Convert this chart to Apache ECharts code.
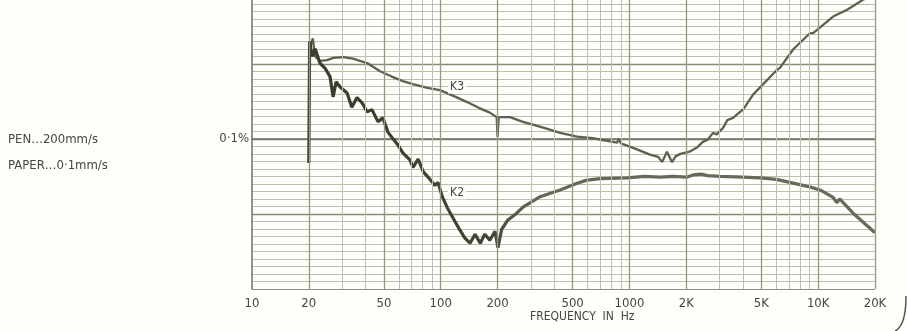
<!DOCTYPE html>
<html>
<head>
<meta charset="utf-8">
<script src="https://cdn.jsdelivr.net/npm/echarts@6/dist/echarts.min.js"></script>
<style>
  html, body { margin: 0; padding: 0; background: #fefefb; }
  #chart { width: 907px; height: 331px; }
</style>
</head>
<body>
<div id="chart"></div>
<script>
// frequency (Hz) and level in dB re 0.1 %
var k3Freq = [20, 21, 21.6, 22.9, 25, 27, 30.4, 34.3, 40.7, 47.7, 55, 63, 71.3, 85, 99, 120, 138, 160, 182, 198, 200, 203, 233, 270, 308, 360, 429, 528, 641, 698, 860, 880, 900, 1045, 1286, 1420, 1490, 1580, 1680, 1760, 1860, 2080, 2290, 2450, 2600, 2770, 2900, 3140, 3300, 3540, 3856, 4000, 4519, 6056, 6281, 7362, 9061, 9400, 11995, 14230, 17200, 20000];
var k3Db   = [11.5, 13.4, 11.0, 10.4, 10.5, 10.8, 10.9, 10.7, 10.1, 9.0, 8.3, 7.7, 7.3, 6.8, 6.5, 5.6, 4.9, 4.1, 3.5, 2.9, 0.3, 2.9, 2.9, 2.3, 1.9, 1.4, 0.8, 0.3, 0.1, -0.1, -0.5, 0.0, -0.6, -1.2, -2.1, -2.4, -3.1, -1.7, -3.1, -2.3, -2.0, -1.7, -1.1, -0.4, -0.1, 0.8, 0.6, 1.5, 2.5, 2.8, 3.6, 3.9, 5.9, 9.2, 9.5, 11.9, 14.1, 14.1, 16.3, 17.2, 18.5, 19.3];

var k2Freq = [20, 20.2, 20.8, 21.6, 22.9, 24.4, 25.9, 26.9, 27.9, 29.3, 31.9, 33.8, 36.0, 38.3, 40.7, 43.2, 46.5, 49.4, 52.5, 55.9, 59.3, 63.1, 68.7, 71.3, 75.9, 80.9, 87.8, 93.3, 96.7, 101.9, 108, 116, 126, 134, 143, 152, 162, 171, 182, 194, 201, 210, 227, 250, 273, 336, 429, 528, 596, 700, 971, 1200, 1453, 1700, 2000, 2173, 2400, 2600, 3021, 4000, 4922, 6000, 7362, 9000, 10230, 12000, 12593, 13000, 15311, 17500, 20000];
var k2Db   = [-3.2, 13.0, 11.0, 12.0, 10.1, 9.4, 8.3, 5.6, 7.6, 6.9, 6.1, 4.2, 5.5, 4.8, 3.6, 3.9, 2.3, 2.8, 0.9, 0.0, -0.8, -1.9, -2.8, -3.8, -2.7, -4.4, -5.4, -6.2, -5.8, -7.7, -9.1, -10.5, -12.1, -13.2, -13.9, -12.7, -13.9, -12.7, -13.5, -12.3, -14.5, -12.1, -10.8, -10.0, -9.1, -7.7, -6.8, -5.9, -5.5, -5.3, -5.2, -5.0, -5.1, -5.0, -5.1, -4.8, -4.7, -4.9, -5.0, -5.1, -5.2, -5.4, -5.9, -6.4, -6.8, -7.8, -8.5, -8.0, -9.9, -11.2, -12.5];

var freqTicks = [10, 20, 50, 100, 200, 500, 1000, 2000, 5000, 10000, 20000];
var gridFreqs = [20, 30, 40, 50, 60, 70, 80, 90, 100, 200, 300, 400, 500, 600, 700, 800, 900, 1000, 2000, 3000, 4000, 5000, 6000, 7000, 8000, 9000, 10000, 20000];
var strongFreqs = [20, 50, 100, 200, 500, 1000, 2000, 5000, 10000, 20000];

var FONT = "'Liberation Sans Narrow', 'DejaVu Sans Condensed', sans-serif";
var INK = '#45473c';
var CURVE = '#5c6151';

function pairs(xs, ys) {
    return xs.map(function (x, i) { return [x, ys[i]]; });
}

var chart = echarts.init(document.getElementById('chart'));

var minorColors = ['#8f917f'];
for (var i = 0; i < 9; i++) minorColors.push('#bdbeae');

var option = {
    backgroundColor: '#fefefb',
    animation: false,
    grid: { left: 252, right: 32, top: 0, bottom: 42 },
    xAxis: {
        type: 'log',
        logBase: 10,
        min: 10,
        max: 20000,
        axisLine: { show: true, lineStyle: { color: '#6f7163', width: 1.5 } },
        axisTick: { show: false },
        splitLine: { show: false },
        axisLabel: {
            customValues: freqTicks,
            margin: 8,
            color: INK,
            fontFamily: FONT,
            fontSize: 13,
            formatter: function (v) {
                return v >= 2000 ? (v / 1000) + 'K' : String(v);
            }
        }
    },
    yAxis: [
        {
            type: 'value',
            min: -20,
            max: 18.5,
            interval: 1,
            axisLine: { show: true, lineStyle: { color: '#6f7163', width: 1.5 } },
            axisTick: { show: false },
            splitLine: { show: true, showMaxLine: false, lineStyle: { color: minorColors, width: 1 } },
            axisLabel: {
                customValues: [0],
                margin: 3,
                color: INK,
                fontFamily: FONT,
                fontSize: 13,
                formatter: function () { return '0·1%'; }
            }
        },
        {
            type: 'value',
            min: -20,
            max: 18.5,
            interval: 10,
            position: 'left',
            axisLine: { show: false },
            axisTick: { show: false },
            axisLabel: { show: false },
            splitLine: { show: true, showMaxLine: false, showMinLine: false, lineStyle: { color: '#8a8c7a', width: 1.3 } }
        }
    ],
    graphic: [
        { type: 'text', left: 8, top: 133, style: { text: 'PEN…200mm/s', fill: INK, font: '13px ' + FONT } },
        { type: 'text', left: 8, top: 159, style: { text: 'PAPER…0·1mm/s', fill: INK, font: '13px ' + FONT } },
        { type: 'text', left: 530, top: 311, style: { text: 'FREQUENCY  IN  Hz', fill: INK, font: '12px ' + FONT } },
        {
            type: 'bezierCurve',
            shape: { x1: 906, y1: 296, x2: 895, y2: 331, cpx1: 906, cpy1: 326 },
            style: { stroke: '#55574b', lineWidth: 1.5, fill: null }
        }
    ],
    series: [
        {
            name: 'grid',
            type: 'line',
            data: [],
            silent: true,
            markLine: {
                silent: true,
                symbol: 'none',
                label: { show: false },
                data: gridFreqs.map(function (f) {
                    var strong = strongFreqs.indexOf(f) >= 0;
                    return {
                        xAxis: f,
                        lineStyle: {
                            type: 'solid',
                            color: strong ? '#979987' : '#c0c1b2',
                            width: strong ? 1.3 : 1
                        }
                    };
                })
            }
        },
        {
            name: 'K3',
            type: 'line',
            data: pairs(k3Freq, k3Db),
            showSymbol: false,
            lineStyle: { color: CURVE, width: 2.3 },
            markPoint: {
                silent: true,
                symbol: 'rect',
                symbolSize: [18, 13],
                itemStyle: { color: '#fefefb' },
                label: { show: true, color: INK, fontFamily: FONT, fontSize: 12, formatter: 'K3' },
                data: [{ coord: [122, 6.9] }]
            }
        },
        {
            name: 'K2',
            type: 'line',
            data: pairs(k2Freq, k2Db),
            showSymbol: false,
            lineStyle: {
                width: 3.2,
                color: new echarts.graphic.LinearGradient(0, 0, 1, 0, [
                    { offset: 0, color: '#383d2f' },
                    { offset: 0.32, color: '#3f4435' },
                    { offset: 0.4, color: '#63685a' },
                    { offset: 1, color: '#666b5c' }
                ])
            },
            markPoint: {
                silent: true,
                symbol: 'rect',
                symbolSize: [18, 13],
                itemStyle: { color: '#fefefb' },
                label: { show: true, color: INK, fontFamily: FONT, fontSize: 12, formatter: 'K2' },
                data: [{ coord: [122, -7.2] }]
            }
        }
    ]
};

chart.setOption(option);
</script>
</body>
</html>
